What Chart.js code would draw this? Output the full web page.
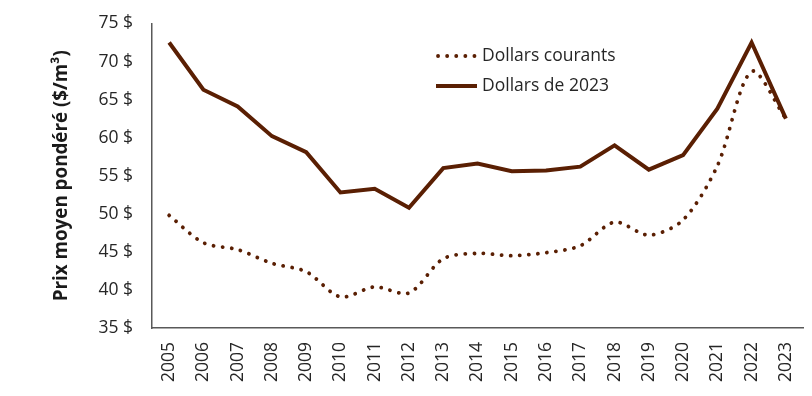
<!DOCTYPE html>
<html>
<head>
<meta charset="utf-8">
<script src="https://cdn.jsdelivr.net/npm/chart.js@4"></script>
<style>
html,body{margin:0;padding:0;background:#fff;}
#wrap{width:812px;height:396px;position:relative;}
</style>
</head>
<body>
<div id="wrap"><canvas id="c" width="812" height="396"></canvas></div>
<script>
const years = ["2005","2006","2007","2008","2009","2010","2011","2012","2013","2014","2015","2016","2017","2018","2019","2020","2021","2022","2023"];
const dollarsCourants = [49.8,46.2,45.3,43.5,42.4,39.1,40.4,39.6,44.1,44.8,44.5,44.9,45.8,48.9,47.2,49.2,56.3,68.7,62.5];
const dollars2023 = [72.5,66.3,64.1,60.2,58.1,52.8,53.3,50.8,56.0,56.6,55.6,55.7,56.2,59.0,55.8,57.7,63.8,72.5,62.5];
const seriesLabels = ["Dollars courants","Dollars de 2023"];
const yTitle = "Prix moyen pondéré ($/m³)";
const yMin = 35, yMax = 75, yStep = 5;

const lineColor = '#5a1f03';
const FONT = "'Open Sans', 'DejaVu Sans', sans-serif";

const legendPlugin = {
  id: 'insideLegend',
  afterDraw(chart) {
    const ctx = chart.ctx;
    const items = [
      {label: chart.data.datasets[0].label, dash: [0.1, 9], y: 56},
      {label: chart.data.datasets[1].label, dash: [], y: 86}
    ];
    ctx.save();
    items.forEach((it, i) => {
      ctx.beginPath();
      ctx.strokeStyle = lineColor;
      ctx.lineWidth = i === 0 ? 3.8 : 4;
      ctx.lineCap = i === 0 ? 'round' : 'butt';
      ctx.setLineDash(it.dash);
      ctx.moveTo(i === 0 ? 438 : 436, it.y);
      ctx.lineTo(477, it.y);
      ctx.stroke();
      ctx.setLineDash([]);
      ctx.fillStyle = '#262626';
      ctx.font = "17.5px " + FONT;
      ctx.textBaseline = 'middle';
      ctx.textAlign = 'left';
      ctx.fillText(it.label, 482, it.y);
    });
    ctx.restore();
  }
};

new Chart(document.getElementById('c'), {
  type: 'line',
  data: {
    labels: years,
    datasets: [
      {
        label: seriesLabels[0],
        data: dollarsCourants,
        borderColor: lineColor,
        borderWidth: 3.8,
        borderDash: [0.1, 9],
        borderCapStyle: 'round',
        pointRadius: 0,
        tension: 0.3,
        fill: false
      },
      {
        label: seriesLabels[1],
        data: dollars2023,
        borderColor: lineColor,
        borderWidth: 4,
        borderJoinStyle: 'miter',
        pointRadius: 0,
        tension: 0,
        fill: false
      }
    ]
  },
  options: {
    responsive: false,
    animation: false,
    events: [],
    layout: { padding: { top: 23.5, right: 9, left: 0, bottom: 0 } },
    plugins: {
      legend: { display: false },
      tooltip: { enabled: false }
    },
    scales: {
      x: {
        offset: true,
        grid: { display: false, drawTicks: false },
        border: { display: true, color: '#595959', width: 1.5 },
        ticks: {
          minRotation: 90, maxRotation: 90,
          padding: 14,
          color: '#262626',
          font: { family: FONT, size: 17.5 }
        },
        afterFit(scale) { scale.height = 68; scale.paddingLeft = 0; scale.paddingRight = 0; }
      },
      y: {
        min: yMin, max: yMax,
        grid: { display: false, drawTicks: false },
        border: { display: true, color: '#595959', width: 1.5 },
        ticks: {
          stepSize: yStep,
          padding: 19,
          color: '#262626',
          font: { family: FONT, size: 17.5 },
          callback: (v) => v + ' $'
        },
        title: {
          display: true,
          text: yTitle,
          color: '#1a1a1a',
          font: { family: FONT, size: 18.8, weight: 'bold' },
          padding: { top: 50.5, bottom: 0 }
        },
        afterFit(scale) { scale.width = 152; scale.paddingTop = 0; scale.paddingBottom = 0; }
      }
    }
  },
  plugins: [legendPlugin]
});
</script>
</body>
</html>
